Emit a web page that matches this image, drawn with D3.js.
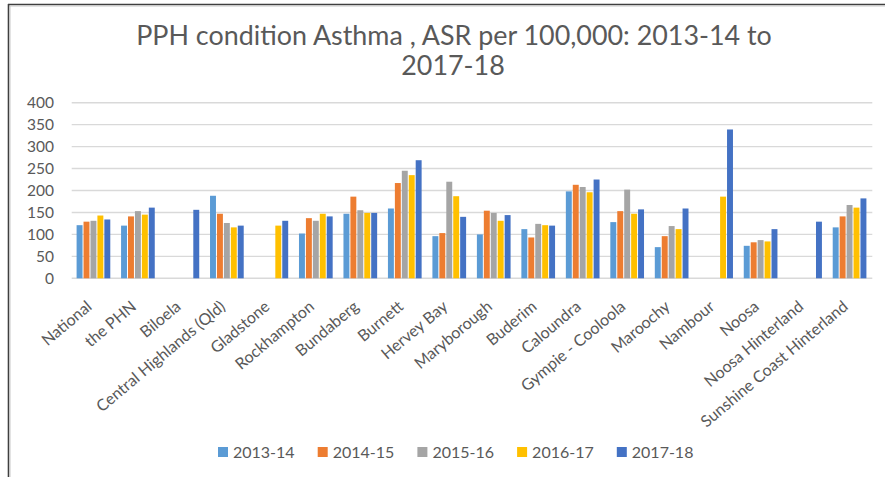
<!DOCTYPE html>
<html>
<head>
<meta charset="utf-8">
<script src="https://cdn.jsdelivr.net/npm/d3@7"></script>
<style>
  body { margin: 0; background: #fff; }
  svg { display: block; }
  text { font-family: Lato, "Open Sans", sans-serif; fill: #595959; }
</style>
</head>
<body>
<svg id="chart" width="885" height="477"></svg>
<script>
// Regions shown along the x axis
const categories = ["National", "the PHN", "Biloela", "Central Highlands (Qld)", "Gladstone",
  "Rockhampton", "Bundaberg", "Burnett", "Hervey Bay", "Maryborough", "Buderim", "Caloundra",
  "Gympie - Cooloola", "Maroochy", "Nambour", "Noosa", "Noosa Hinterland", "Sunshine Coast Hinterland"];

// Financial years (one bar per year in each group)
const years = ["2013-14", "2014-15", "2015-16", "2016-17", "2017-18"];

// Asthma PPH, age-standardised rate per 100,000 (null = not reported)
const v2013_14 = [121, 120, null, 188, null, 102, 147, 159, 96, 100, 112, 198, 128, 71, null, 74, null, 116];
const v2014_15 = [129, 141, null, 147, null, 137, 186, 217, 103, 154, 93, 213, 153, 96, null, 82, null, 141];
const v2015_16 = [131, 153, null, 126, null, 131, 155, 245, 220, 149, 124, 208, 202, 119, null, 87, null, 167];
const v2016_17 = [143, 145, null, 116, 120, 147, 149, 235, 187, 131, 121, 196, 147, 112, 186, 84, null, 161];
const v2017_18 = [134, 161, 156, 120, 131, 141, 149, 269, 140, 144, 120, 225, 157, 159, 339, 112, 129, 182];

const yTicks = [0, 50, 100, 150, 200, 250, 300, 350, 400];

const seriesValues = [v2013_14, v2014_15, v2015_16, v2016_17, v2017_18];
const colors = ["#5B9BD5", "#ED7D31", "#A5A5A5", "#FFC000", "#4472C4"];

const svg = d3.select("#chart");

// Chart frame (top and left edges)
svg.append("line").attr("x1", 8).attr("x2", 885).attr("y1", 4.5).attr("y2", 4.5)
  .attr("stroke", "#3f3f3f").attr("stroke-width", 1.6);
svg.append("line").attr("x1", 8).attr("x2", 885).attr("y1", 6).attr("y2", 6)
  .attr("stroke", "#c8c8c8").attr("stroke-width", 1);
svg.append("line").attr("x1", 8.5).attr("x2", 8.5).attr("y1", 4).attr("y2", 477)
  .attr("stroke", "#3f3f3f").attr("stroke-width", 1.6);
svg.append("line").attr("x1", 10).attr("x2", 10).attr("y1", 6).attr("y2", 477)
  .attr("stroke", "#c8c8c8").attr("stroke-width", 1);

// Title
const title = svg.append("g").attr("text-anchor", "middle");
const t1 = title.append("text").attr("x", 454).attr("y", 45)
  .text("PPH condition Asthma , ASR per 100,000: 2013-14 to");
const t2 = title.append("text").attr("x", 453).attr("y", 75).text("2017-18");
t1.style("font-size", "20px");
const fs = 20 * 636 / t1.node().getComputedTextLength();
t1.style("font-size", fs + "px");
t2.style("font-size", fs + "px");

// Scales
const x0 = d3.scaleBand().domain(categories).range([71.7, 872.3])
  .paddingInner(0.22).paddingOuter(0.11);
const x1 = d3.scaleBand().domain(years).range([0, x0.bandwidth()]);
const y = d3.scaleLinear().domain([0, 400]).range([278.3, 102.7]);

// Gridlines
svg.append("g").selectAll("line").data(yTicks).join("line")
  .attr("x1", 71.7).attr("x2", 872.3)
  .attr("y1", d => y(d)).attr("y2", d => y(d))
  .attr("stroke", "#d9d9d9").attr("stroke-width", 1.4);

// Y axis labels
const yAxis = svg.append("g").attr("transform", "translate(64,0)")
  .call(d3.axisLeft(y).tickValues(yTicks).tickSize(0).tickPadding(10));
yAxis.select(".domain").remove();
yAxis.selectAll("text").attr("fill", "#595959")
  .style("font-family", "Lato, 'Open Sans', sans-serif").style("font-size", "15.5px");

// Bars
const groups = svg.append("g").selectAll("g").data(categories).join("g")
  .attr("transform", d => `translate(${x0(d)},0)`);
groups.selectAll("rect")
  .data((c, i) => years.map((yr, k) => ({ yr, k, v: seriesValues[k][i] })).filter(d => d.v != null))
  .join("rect")
  .attr("x", d => x1(d.yr))
  .attr("width", x1.bandwidth() - 1)
  .attr("y", d => y(d.v))
  .attr("height", d => y(0) - y(d.v))
  .attr("fill", d => colors[d.k]);

// X axis labels
const xAxis = svg.append("g").attr("transform", "translate(0,278.3)")
  .call(d3.axisBottom(x0).tickSize(0).tickPadding(0));
xAxis.select(".domain").remove();
xAxis.selectAll(".tick text")
  .attr("fill", "#595959")
  .style("font-family", "Lato, 'Open Sans', sans-serif").style("font-size", "16px")
  .attr("text-anchor", "end")
  .attr("dy", 0)
  .attr("y", 0)
  .attr("transform", "translate(-1,30) rotate(-40)");

// Legend
const legend = svg.append("g").selectAll("g").data(years).join("g")
  .attr("transform", (d, i) => `translate(${218 + i * 99.7},447)`);
legend.append("rect").attr("width", 10).attr("height", 10).attr("fill", (d, i) => colors[i]);
legend.append("text").attr("x", 15).attr("y", 10.5).style("font-size", "16px").text(d => d);
</script>
</body>
</html>
